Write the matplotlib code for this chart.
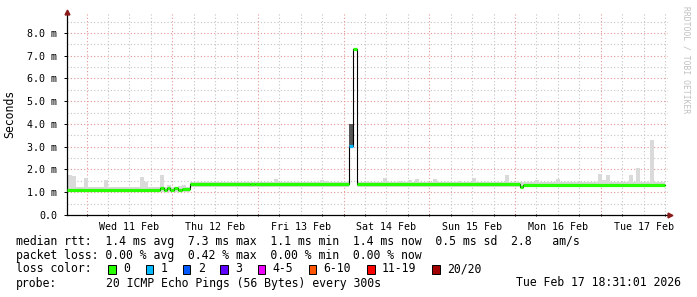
import matplotlib
matplotlib.use('Agg')
import matplotlib.pyplot as plt
from matplotlib.patches import Rectangle
import numpy as np

W, H = 697, 297
MONO = 'DejaVu Sans Mono'

# time axis: hours since Tue 10 Feb 2026 00:00
t_first, t_last = 18.52, 186.0

# median rtt (ms), step-wise: value holds from med_t[i] to med_t[i+1]
med_t = [18.5, 44.6, 45.6, 46.4, 47.4, 48.5, 49.6, 50.6, 53.0, 69.8, 71.2,
         97.5, 98.6, 99.7, 145.4, 146.3, 186.0]
med_v = [1.10, 1.20, 1.12, 1.20, 1.12, 1.18, 1.10, 1.16, 1.35, 1.38, 1.35,
         3.05, 7.30, 1.35, 1.22, 1.34]
med_loss = [0, 0, 0, 0, 0, 0, 0, 0, 0, 0, 0, 1, 0, 0, 0, 0]

# smoke band around the median
band_t = [18.5, 53.0, 97.5, 99.7, 186.0]
band_lo = [1.02, 1.24, 3.05, 1.24]
band_hi = [1.23, 1.46, 3.05, 1.46]

# dark smoke at the spike
dark_t = [97.5, 98.6]
dark_lo, dark_hi = 3.05, 4.0

# single tall smoke bars
bar_t = [18.8, 19.9, 23.3, 28.9, 39.0, 40.0, 44.6, 46.5, 49.6, 50.8,
         67.0, 71.5, 76.5, 89.4, 90.6,
         107.0, 111.5, 114.0, 116.0, 121.0, 128.0, 132.0,
         141.2, 144.3, 149.6, 155.5,
         167.3, 168.4, 169.5, 175.9, 177.9, 181.9]
bar_top = [1.76, 1.72, 1.63, 1.54, 1.68, 1.45, 1.76, 1.30, 1.28, 1.30,
           1.45, 1.42, 1.59, 1.54, 1.50,
           1.62, 1.48, 1.55, 1.60, 1.60, 1.48, 1.62,
           1.76, 1.45, 1.55, 1.58,
           1.80, 1.55, 1.76, 1.76, 2.07, 3.30]

day_noon = [36, 60, 84, 108, 132, 156, 180]
day_labels = ['Wed 11 Feb', 'Thu 12 Feb', 'Fri 13 Feb', 'Sat 14 Feb',
              'Sun 15 Feb', 'Mon 16 Feb', 'Tue 17 Feb']

y_ticks = [0, 1, 2, 3, 4, 5, 6, 7, 8]
y_labels = ['0.0', '1.0 m', '2.0 m', '3.0 m', '4.0 m', '5.0 m', '6.0 m',
            '7.0 m', '8.0 m']

loss_labels = ['0', '1', '2', '3', '4-5', '6-10', '11-19', '20/20']
loss_colors = ['#26ff00', '#00b8ff', '#0059ff', '#5e00ff', '#ee00ff',
               '#ff5500', '#ff0000', '#a10000']

legend_lines = [
    'median rtt:  1.4 ms avg  7.3 ms max  1.1 ms min  1.4 ms now  0.5 ms sd  2.8   am/s',
    'packet loss: 0.00 % avg  0.42 % max  0.00 % min  0.00 % now',
]
probe_text = '20 ICMP Echo Pings (56 Bytes) every 300s'
stamp_text = 'Tue Feb 17 18:31:01 2026'

fig = plt.figure(figsize=(W / 100, H / 100), dpi=100, facecolor='white')
ax = fig.add_axes([67 / W, (H - 215) / H, 601 / W, 203 / H])
ax.set_facecolor('white')
ax.set_xlim(t_first, t_first + 601 * 0.2801)
ax.set_ylim(0, 8.92)

# grid
for h in np.arange(24, 187, 6):
    major = h % 24 == 0
    ax.axvline(h, color='#e49494' if major else '#c4c4c4', lw=0.8,
               ls=(0, (1, 2)), zorder=0)
for v in np.arange(0.5, 8.6, 0.5):
    major = v % 1 == 0
    ax.axhline(v, color='#e49494' if major else '#c4c4c4', lw=0.8,
               ls=(0, (1, 2)), zorder=0)

# smoke
for i in range(len(band_lo)):
    ax.fill_between([band_t[i], band_t[i + 1]], band_lo[i], band_hi[i],
                    color='#d8d8d8', lw=0, zorder=1)
for t, top in zip(bar_t, bar_top):
    k = max(0, np.searchsorted(band_t, t, side='right') - 1)
    ax.fill_between([t, t + 1.12], band_lo[k], top, color='#dadada', lw=0,
                    zorder=1)
ax.fill_between(dark_t, dark_lo, dark_hi, color='#555555', lw=0, zorder=2)

# median
ax.step(med_t, med_v + [med_v[-1]], where='post', color='black', lw=0.8,
        zorder=3)
for i in range(len(med_v)):
    ax.hlines(med_v[i], med_t[i], med_t[i + 1],
              color=loss_colors[med_loss[i]], lw=2.3, zorder=4)

# axes
for s in ['top', 'right']:
    ax.spines[s].set_visible(False)
for s in ['left', 'bottom']:
    ax.spines[s].set_linewidth(0.9)
ax.plot([1.003], [0], marker='>', ms=3.5, color='#8b1a1a',
        transform=ax.transAxes, clip_on=False, zorder=6)
ax.plot([0], [1.0], marker='^', ms=3.5, color='#8b1a1a',
        transform=ax.transAxes, clip_on=False, zorder=6)

ax.set_xticks(day_noon)
ax.set_xticklabels(day_labels, family=MONO, fontsize=7.2)
ax.set_xticks(np.arange(24, 187, 6), minor=True)
ax.set_yticks(y_ticks)
ax.set_yticklabels(y_labels, family=MONO, fontsize=7.2)
ax.tick_params(axis='x', which='major', length=0, pad=5)
ax.tick_params(axis='x', which='minor', length=2, width=0.7, direction='inout')
ax.tick_params(axis='y', length=2, width=0.7, pad=5)
ax.set_ylabel('Seconds', family=MONO, fontsize=8.3, labelpad=8)

fig.text(686 / W, 1 - 60 / H, 'RRDTOOL / TOBI OETIKER', rotation=270,
         family=MONO, fontsize=5.8, color='#c0c0c0', ha='center', va='center')

# legend block
def fy(y):
    return 1 - y / H

fs = 8.3
cw = fs / 72 * 100 * 0.602
for row, line in zip([241, 255], legend_lines):
    fig.text(16 / W, fy(row), line, family=MONO, fontsize=fs, va='center')
fig.text(16 / W, fy(269), 'loss color:', family=MONO, fontsize=fs,
         va='center')
x = 108.3
for lab, col in zip(loss_labels, loss_colors):
    fig.patches.append(Rectangle((x / W, fy(273.5)), 7.5 / W, 9 / H,
                                 transform=fig.transFigure, facecolor=col,
                                 edgecolor='black', lw=0.7))
    fig.text((x + 14.7) / W, fy(269), lab, family=MONO, fontsize=fs,
             va='center')
    x = x + 14.7 + len(lab) * cw + 15.7
fig.text(16 / W, fy(283), 'probe:', family=MONO, fontsize=fs, va='center')
fig.text(106.5 / W, fy(283), probe_text, family=MONO, fontsize=fs,
         va='center')
fig.text(681 / W, fy(283), stamp_text, family=MONO, fontsize=fs,
         va='center', ha='right')

fig.savefig('out.png', dpi=100, facecolor='white')
